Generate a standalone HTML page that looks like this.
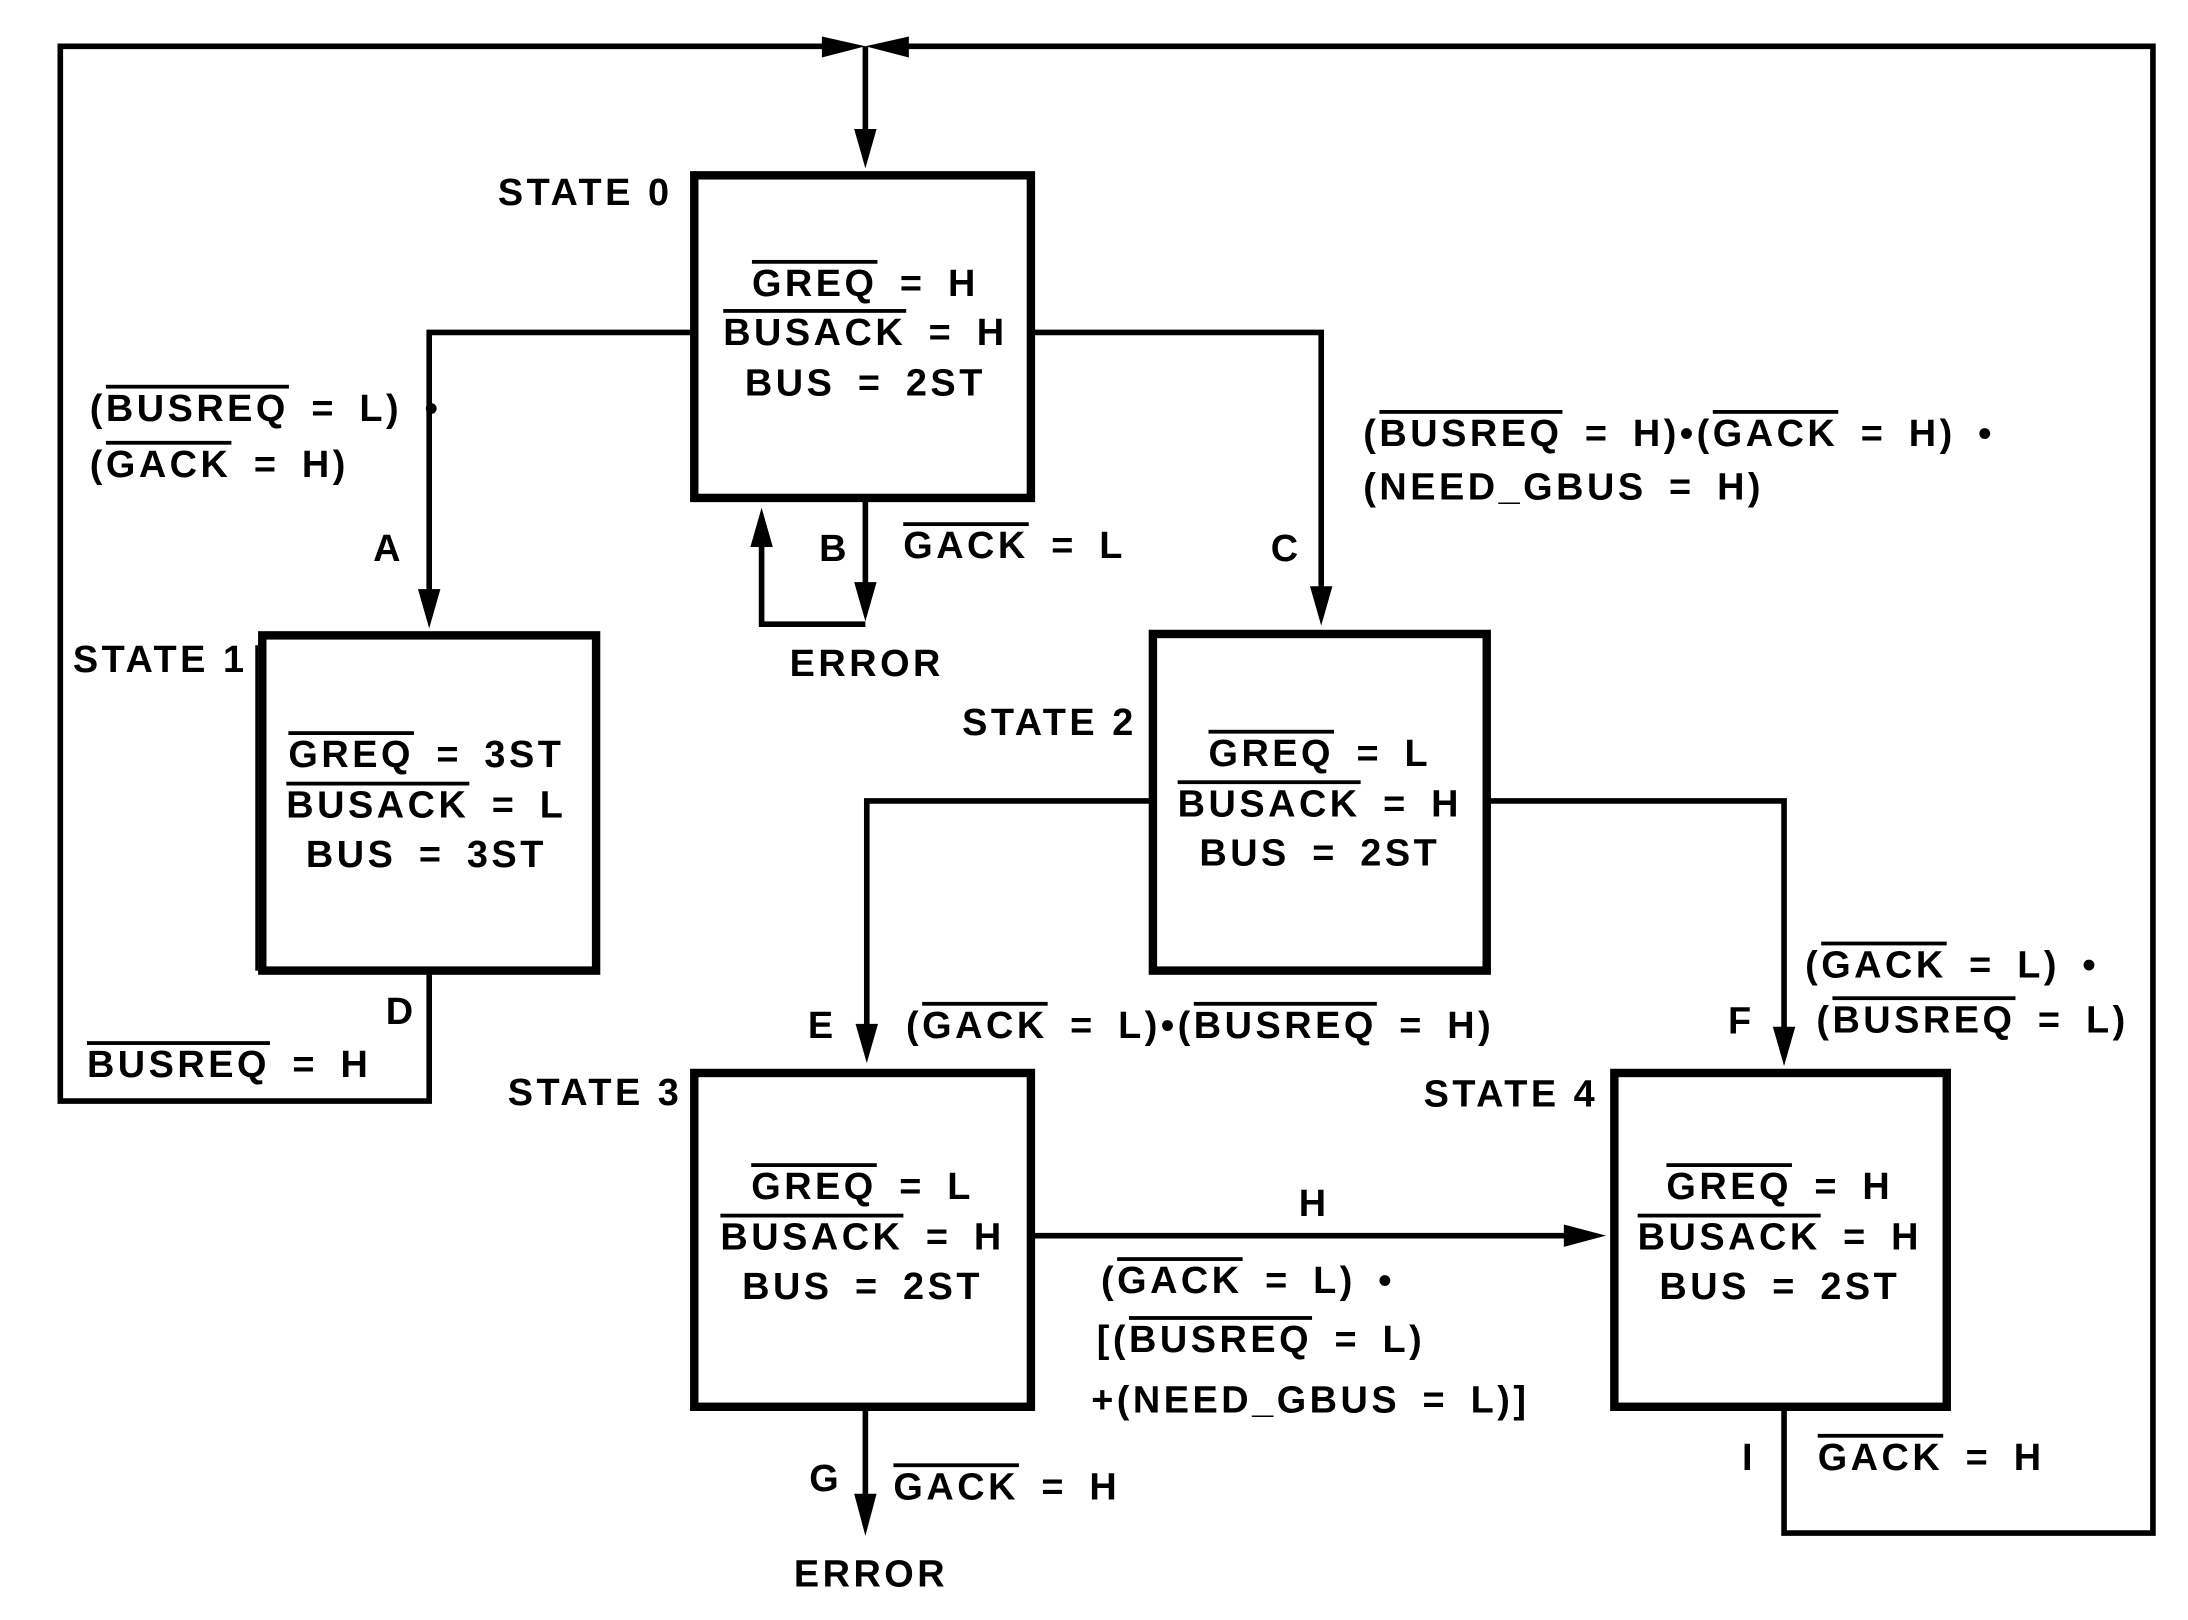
<!DOCTYPE html>
<html><head><meta charset="utf-8"><style>
html,body{margin:0;padding:0;background:#fff;}
svg{display:block;}
text{font-family:"Liberation Sans",Arial,sans-serif;font-weight:bold;font-size:27px;fill:#000;letter-spacing:2.5px;word-spacing:6px;}
text.s{word-spacing:0px;}
.o{text-decoration:overline;}
</style></head><body>
<svg width="2188" height="1620" viewBox="0 0 1560 1155" xmlns="http://www.w3.org/2000/svg">
<g fill="none" stroke="#000" stroke-width="4">
<polyline points="600,33 43,33 43,785 306,785 306,692"/>
<polyline points="634,33 1535,33 1535,1093 1272,1093 1272,1003"/>
<line x1="617" y1="33" x2="617" y2="105"/>
<polyline points="495,237 306,237 306,430"/>
<polyline points="735,237 942,237 942,428"/>
<line x1="617" y1="355" x2="617" y2="425"/>
<polyline points="617,445 543,445 543,385"/>
<polyline points="822,571 618,571 618,740"/>
<polyline points="1060,571 1272,571 1272,742"/>
<line x1="735" y1="881" x2="1125" y2="881"/>
<line x1="617" y1="1003" x2="617" y2="1075"/>
<line x1="183" y1="460" x2="183" y2="692" stroke-width="2"/>
</g>
<g fill="#000">
<polygon points="586,26 617,33 586,41"/>
<polygon points="648,26 617,33 648,41"/>
<polygon points="609,92 625,92 617,120"/>
<polygon points="298,420 314,420 306,448"/>
<polygon points="934,418 950,418 942,446"/>
<polygon points="609,415 625,415 617,443"/>
<polygon points="535,390 551,390 543,362"/>
<polygon points="610,730 626,730 618,758"/>
<polygon points="1264,732 1280,732 1272,760"/>
<polygon points="1115,873 1115,889 1145,881"/>
<polygon points="609,1065 625,1065 617,1095"/>
</g>
<g fill="none" stroke="#000" stroke-width="6">
<rect x="495" y="125" width="240" height="230"/>
<rect x="187" y="453" width="238" height="239"/>
<rect x="822" y="452" width="238" height="240"/>
<rect x="495" y="765" width="240" height="238"/>
<rect x="1151" y="765" width="237" height="238"/>
</g>
<text class="s" x="355" y="146">STATE 0</text>
<text class="s" x="52" y="479">STATE 1</text>
<text class="s" x="686" y="524">STATE 2</text>
<text class="s" x="362" y="788">STATE 3</text>
<text class="s" x="1015" y="789">STATE 4</text>

<g text-anchor="middle">
<text x="617" y="211"><tspan class="o">GREQ</tspan> = H</text>
<text x="617" y="246"><tspan class="o">BUSACK</tspan> = H</text>
<text x="617" y="282">BUS = 2ST</text>

<text x="304" y="547"><tspan class="o">GREQ</tspan> = 3ST</text>
<text x="304" y="583"><tspan class="o">BUSACK</tspan> = L</text>
<text x="304" y="618">BUS = 3ST</text>

<text x="941" y="546"><tspan class="o">GREQ</tspan> = L</text>
<text x="941" y="582"><tspan class="o">BUSACK</tspan> = H</text>
<text x="941" y="617">BUS = 2ST</text>

<text x="615" y="855"><tspan class="o">GREQ</tspan> = L</text>
<text x="615" y="891"><tspan class="o">BUSACK</tspan> = H</text>
<text x="615" y="926">BUS = 2ST</text>

<text x="1269" y="855"><tspan class="o">GREQ</tspan> = H</text>
<text x="1269" y="891"><tspan class="o">BUSACK</tspan> = H</text>
<text x="1269" y="926">BUS = 2ST</text>
</g>

<text x="64" y="300">(<tspan class="o">BUSREQ</tspan> = L) •</text>
<text x="64" y="340">(<tspan class="o">GACK</tspan> = H)</text>
<text x="266" y="400">A</text>
<text x="584" y="400">B</text>
<text x="644" y="398"><tspan class="o">GACK</tspan> = L</text>
<text x="563" y="482">ERROR</text>
<text x="906" y="400">C</text>
<text x="972" y="318">(<tspan class="o">BUSREQ</tspan> = H)•(<tspan class="o">GACK</tspan> = H) •</text>
<text x="972" y="356">(NEED_GBUS = H)</text>
<text x="275" y="730">D</text>
<text x="62" y="768"><tspan class="o">BUSREQ</tspan> = H</text>
<text x="576" y="740">E</text>
<text x="646" y="740">(<tspan class="o">GACK</tspan> = L)•(<tspan class="o">BUSREQ</tspan> = H)</text>
<text x="1232" y="737">F</text>
<text x="1287" y="697">(<tspan class="o">GACK</tspan> = L) •</text>
<text x="1295" y="736">(<tspan class="o">BUSREQ</tspan> = L)</text>
<text x="926" y="867">H</text>
<text x="785" y="922">(<tspan class="o">GACK</tspan> = L) •</text>
<text x="782" y="964">[(<tspan class="o">BUSREQ</tspan> = L)</text>
<text x="778" y="1007">+(NEED_GBUS = L)]</text>
<text x="577" y="1063">G</text>
<text x="637" y="1069"><tspan class="o">GACK</tspan> = H</text>
<text x="566" y="1131">ERROR</text>
<text x="1242" y="1048">I</text>
<text x="1296" y="1048"><tspan class="o">GACK</tspan> = H</text>
</svg>
</body></html>
